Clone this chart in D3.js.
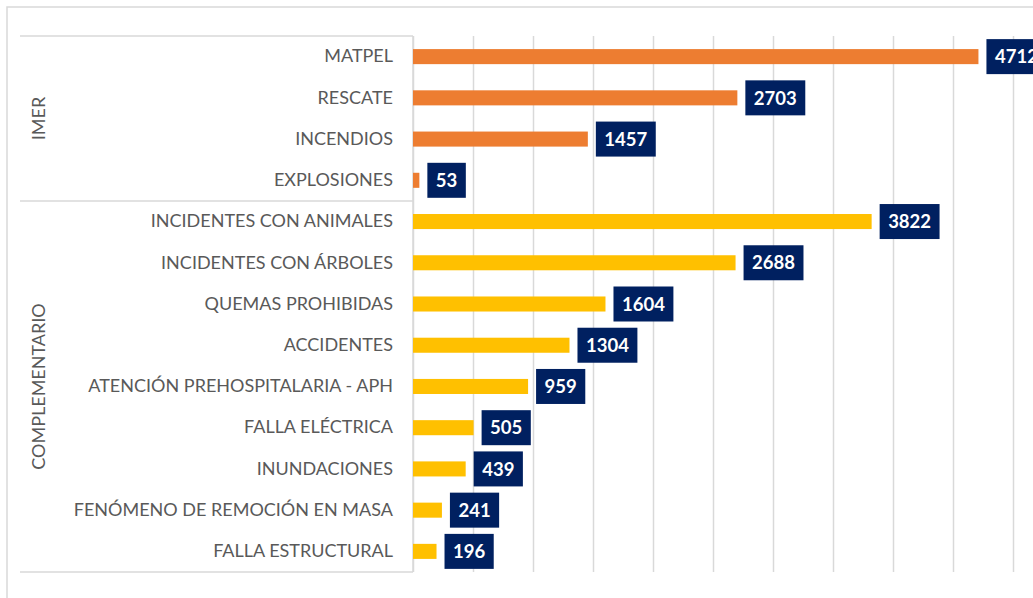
<!DOCTYPE html>
<html>
<head>
<meta charset="utf-8">
<script src="https://cdn.jsdelivr.net/npm/d3@7"></script>
<style>
  body { margin: 0; background: #fff; }
  text { font-family: Lato, "Open Sans", sans-serif; }
</style>
</head>
<body>
<div id="chart"></div>
<script>
// data
var groups = ["IMER", "COMPLEMENTARIO"];
var imerCats = ["MATPEL", "RESCATE", "INCENDIOS", "EXPLOSIONES"];
var imerVals = [4712, 2703, 1457, 53];
var compCats = ["INCIDENTES CON ANIMALES", "INCIDENTES CON ÁRBOLES", "QUEMAS PROHIBIDAS",
    "ACCIDENTES", "ATENCIÓN PREHOSPITALARIA - APH", "FALLA ELÉCTRICA", "INUNDACIONES",
    "FENÓMENO DE REMOCIÓN EN MASA", "FALLA ESTRUCTURAL"];
var compVals = [3822, 2688, 1604, 1304, 959, 505, 439, 241, 196];
var xTicks = [0, 500, 1000, 1500, 2000, 2500, 3000, 3500, 4000, 4500, 5000];

var width = 1033;
var height = 598;
var gridColor = "#d9d9d9";

var rows = [];
imerCats.forEach(function(c, i){ rows.push({cat: c, value: imerVals[i], group: groups[0]}); });
compCats.forEach(function(c, i){ rows.push({cat: c, value: compVals[i], group: groups[1]}); });

var color = d3.scaleOrdinal().domain(groups).range(["#ed7d31", "#ffc000"]);

var svg = d3.select("#chart").append("svg")
    .attr("width", width)
    .attr("height", height);

// outer chart frame
svg.append("rect")
    .attr("x", 7).attr("y", 7)
    .attr("width", 1060).attr("height", 620)
    .style("fill", "none")
    .style("stroke", gridColor)
    .style("stroke-width", 1.5);

var plotTop = 36, plotBottom = 572, plotLeft = 413;

var x = d3.scaleLinear().domain([0, 5000]).range([plotLeft, 1013]);
var y = d3.scaleBand()
    .domain(rows.map(function(d){ return d.cat; }))
    .range([plotTop, plotBottom])
    .paddingInner(0.635)
    .paddingOuter(0.3175);

// vertical gridlines
var grid = svg.append("g")
    .attr("transform", "translate(0," + plotTop + ")")
    .call(d3.axisBottom(x).tickValues(xTicks).tickSize(plotBottom - plotTop).tickFormat(""));
grid.select(".domain").remove();
grid.selectAll("line").style("stroke", gridColor).style("stroke-width", 1.5);

// category labels
var yAxis = svg.append("g")
    .attr("transform", "translate(" + plotLeft + ",0)")
    .call(d3.axisLeft(y).tickSize(0).tickPadding(20));
yAxis.select(".domain").remove();
yAxis.selectAll("text")
    .style("font-family", "Lato, 'Open Sans', sans-serif")
    .style("font-size", "18px")
    .style("fill", "#595959");

// group box lines
var split = plotTop + y.step() * imerCats.length;
[plotTop, split, plotBottom].forEach(function(yy){
    svg.append("line")
        .attr("x1", 20).attr("x2", plotLeft)
        .attr("y1", yy).attr("y2", yy)
        .style("stroke", gridColor).style("stroke-width", 1.5);
});
svg.append("line")
    .attr("x1", plotLeft).attr("x2", plotLeft)
    .attr("y1", plotTop).attr("y2", plotBottom)
    .style("stroke", gridColor).style("stroke-width", 1.5);

// group labels
var groupMid = [(plotTop + split) / 2, (split + plotBottom) / 2];
svg.selectAll(".grp")
    .data(groups)
    .enter().append("text")
    .attr("class", "grp")
    .attr("transform", function(d, i){ return "translate(45," + groupMid[i] + ") rotate(-90)"; })
    .style("text-anchor", "middle")
    .style("font-size", "18px")
    .style("fill", "#595959")
    .text(function(d){ return d; });

// bars
svg.selectAll(".bar")
    .data(rows)
    .enter().append("rect")
    .attr("class", "bar")
    .attr("x", x(0))
    .attr("y", function(d){ return y(d.cat); })
    .attr("width", function(d){ return x(d.value) - x(0); })
    .attr("height", y.bandwidth())
    .style("fill", function(d){ return color(d.group); });

// value labels in dark boxes
var lab = svg.selectAll(".lab")
    .data(rows)
    .enter().append("g")
    .attr("class", "lab")
    .attr("transform", function(d){
        return "translate(" + (x(d.value) + 8) + "," + (y(d.cat) + y.bandwidth() / 2) + ")";
    });
lab.append("rect")
    .attr("y", -17.5)
    .attr("height", 35)
    .style("fill", "#002060");
var boxText = lab.append("text")
    .attr("dy", "0.36em")
    .style("font-size", "18.5px")
    .style("font-weight", "bold")
    .style("fill", "#fff")
    .style("text-anchor", "middle")
    .text(function(d){ return d.value; });
boxText.each(function(d){
    var w = this.getComputedTextLength() + 17;
    d3.select(this).attr("x", w / 2);
    d3.select(this.parentNode).select("rect").attr("width", w);
});
</script>
</body>
</html>
